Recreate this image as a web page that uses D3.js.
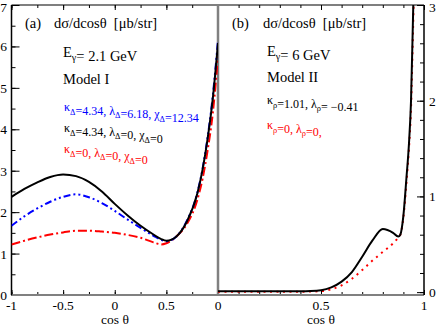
<!DOCTYPE html>
<html>
<head>
<meta charset="utf-8">
<script src="https://cdn.jsdelivr.net/npm/d3@7"></script>
<style>
  body { margin: 0; background: #fff; }
  svg { display: block; }
</style>
</head>
<body>
<svg id="chart" width="436" height="326"></svg>
<script>
// panel (a): E_gamma = 2.1 GeV, Model I
const cos_a = [-1, -0.875, -0.75, -0.625, -0.5, -0.375, -0.25, -0.125, 0, 0.125, 0.25, 0.375, 0.45, 0.5, 0.6, 0.7, 0.8, 0.85, 0.9, 0.95, 1];
const black_a = [2.37, 2.56, 2.72, 2.85, 2.91, 2.87, 2.73, 2.5, 2.2, 1.92, 1.67, 1.46, 1.35, 1.31, 1.42, 1.78, 2.45, 3.02, 3.78, 4.75, 6.08];
const blue_a = [1.67, 1.9, 2.09, 2.25, 2.37, 2.43, 2.36, 2.22, 2.03, 1.82, 1.62, 1.43, 1.33, 1.3, 1.42, 1.8, 2.47, 3.04, 3.82, 4.82, 6.15];
const red_a = [1.22, 1.31, 1.39, 1.46, 1.51, 1.55, 1.55, 1.53, 1.5, 1.45, 1.38, 1.27, 1.22, 1.25, 1.42, 1.72, 2.3, 2.8, 3.5, 4.4, 5.75];

// panel (b): E_gamma = 6 GeV, Model II
const cos_b = [0, 0.1, 0.2, 0.3, 0.4, 0.45, 0.5, 0.55, 0.6, 0.65, 0.7, 0.75, 0.8, 0.85, 0.875, 0.885, 0.9, 0.915, 0.927, 0.937, 0.948, 0.96];
const black_b = [0.01, 0.01, 0.01, 0.01, 0.01, 0.012, 0.02, 0.05, 0.11, 0.21, 0.37, 0.54, 0.66, 0.62, 0.58, 0.6, 0.8, 1.2, 1.55, 2.0, 3.0, 4.0];
const red_b = [0.005, 0.005, 0.005, 0.005, 0.005, 0.006, 0.01, 0.03, 0.07, 0.14, 0.23, 0.33, 0.42, 0.51, 0.57, 0.6, 0.78, 1.15, 1.5, 1.92, 2.85, 3.9];

const y_top = 5, y_bottom = 295;
const serif = '"Liberation Serif", "Times New Roman", Times, "DejaVu Serif", serif';
const svg = d3.select('#chart').attr('font-family', serif);

const xa = d3.scaleLinear().domain([-1, 1]).range([11.5, 218]);
const ya = d3.scaleLinear().domain([0, 7]).range([y_bottom, y_top]);
const xb = d3.scaleLinear().domain([0, 1]).range([218, 424]);
const yb = d3.scaleLinear().domain([-0.03, 3]).range([y_bottom, y_top]);

const defs = svg.append('defs');
defs.append('clipPath').attr('id', 'clip-a').append('rect')
  .attr('x', 11.5).attr('y', y_top).attr('width', 218 - 11.5).attr('height', y_bottom - y_top);
defs.append('clipPath').attr('id', 'clip-b').append('rect')
  .attr('x', 218).attr('y', y_top).attr('width', 424 - 218).attr('height', y_bottom - y_top);

const tick_vals = function (lo, hi, step) {
  return d3.range(Math.round((hi - lo) / step) + 1).map(i => +(lo + i * step).toFixed(4));
};

const add_ticks = function (g, axis, vals, len) {
  g.append('g').call(axis.tickValues(vals).tickSize(len).tickFormat(''))
    .call(s => s.select('.domain').remove())
    .call(s => s.selectAll('line').attr('stroke', '#000'));
};

// panel (a) axes
const ga = svg.append('g');
add_ticks(ga.append('g').attr('transform', `translate(0,${y_bottom})`), d3.axisTop(xa), tick_vals(-1, 1, 0.25), 3);
add_ticks(ga.append('g').attr('transform', `translate(0,${y_bottom})`), d3.axisTop(xa), tick_vals(-1, 1, 0.5), 5);
add_ticks(ga.append('g').attr('transform', `translate(0,${y_top})`), d3.axisBottom(xa), tick_vals(-1, 1, 0.25), 3);
add_ticks(ga.append('g').attr('transform', `translate(0,${y_top})`), d3.axisBottom(xa), tick_vals(-1, 1, 0.5), 5);
add_ticks(ga.append('g').attr('transform', 'translate(11.5,0)'), d3.axisRight(ya), tick_vals(0, 7, 0.5), 4);
add_ticks(ga.append('g').attr('transform', 'translate(11.5,0)'), d3.axisRight(ya), tick_vals(0, 7, 1), 8);

// panel (b) axes
const gb = svg.append('g');
add_ticks(gb.append('g').attr('transform', `translate(0,${y_bottom})`), d3.axisTop(xb), tick_vals(0, 1, 0.1), 3);
add_ticks(gb.append('g').attr('transform', `translate(0,${y_bottom})`), d3.axisTop(xb), tick_vals(0, 1, 0.5), 5);
add_ticks(gb.append('g').attr('transform', `translate(0,${y_top})`), d3.axisBottom(xb), tick_vals(0, 1, 0.1), 3);
add_ticks(gb.append('g').attr('transform', `translate(0,${y_top})`), d3.axisBottom(xb), tick_vals(0, 1, 0.5), 5);
add_ticks(gb.append('g').attr('transform', 'translate(424,0)'), d3.axisLeft(yb), tick_vals(0, 3, 0.2), 4);
add_ticks(gb.append('g').attr('transform', 'translate(424,0)'), d3.axisLeft(yb), tick_vals(0, 3, 1), 7);

// frame
svg.append('line').attr('x1', 11.5).attr('x2', 424).attr('y1', y_top).attr('y2', y_top).attr('stroke', '#000').attr('stroke-width', 1.2);
svg.append('line').attr('x1', 11.5).attr('x2', 424).attr('y1', y_bottom).attr('y2', y_bottom).attr('stroke', '#808080').attr('stroke-width', 2);
svg.append('line').attr('x1', 11.5).attr('x2', 11.5).attr('y1', y_top).attr('y2', y_bottom).attr('stroke', '#000').attr('stroke-width', 1.5);
svg.append('line').attr('x1', 424).attr('x2', 424).attr('y1', y_top).attr('y2', y_bottom).attr('stroke', '#000').attr('stroke-width', 1.5);
svg.append('line').attr('x1', 218).attr('x2', 218).attr('y1', y_top).attr('y2', y_bottom).attr('stroke', '#808080').attr('stroke-width', 2.5);

// tick labels
const lab = svg.append('g').attr('font-size', 13.5).attr('fill', '#000');
[-1, -0.5, 0, 0.5].forEach(v => {
  lab.append('text').attr('x', xa(v)).attr('y', 310).attr('text-anchor', 'middle').text(v);
});
[0, 0.5, 1].forEach(v => {
  lab.append('text').attr('x', xb(v)).attr('y', 310).attr('text-anchor', 'middle').text(v);
});
d3.range(0, 8).forEach(v => {
  lab.append('text').attr('x', 7).attr('y', Math.max(ya(v) + 5, 12)).attr('text-anchor', 'end').text(v);
});
[0, 1, 2, 3].forEach(v => {
  lab.append('text').attr('x', 429).attr('y', Math.max(yb(v) + 5, 12)).attr('text-anchor', 'start').text(v);
});
lab.append('text').attr('x', 115).attr('y', 324).attr('text-anchor', 'middle').text('cos θ');
lab.append('text').attr('x', 321).attr('y', 324).attr('text-anchor', 'middle').text('cos θ');

// curves
const draw = function (clip, xs, ys, x, y, color, dash, width) {
  const pts = xs.map((c, i) => [c, ys[i]]);
  svg.append('path')
    .attr('clip-path', `url(#${clip})`)
    .attr('d', d3.line().x(d => x(d[0])).y(d => y(d[1])).curve(d3.curveMonotoneX)(pts))
    .attr('fill', 'none')
    .attr('stroke', color)
    .attr('stroke-width', width)
    .attr('stroke-dasharray', dash);
};

draw('clip-a', cos_a, red_a, xa, ya, '#ff0000', '9,3,2,3', 2);
draw('clip-a', cos_a, blue_a, xa, ya, '#0000ff', '7,3,2,3,2,3', 2);
draw('clip-a', cos_a, black_a, xa, ya, '#000', null, 2);
draw('clip-b', cos_b, red_b, xb, yb, '#ff0000', '2,4.5', 2);
draw('clip-b', cos_b, black_b, xb, yb, '#000', null, 2);

// annotations
const sub_text = function (x, y, size, color, parts) {
  const t = svg.append('text').attr('x', x).attr('y', y).attr('font-size', size).attr('fill', color);
  parts.forEach(p => {
    if (typeof p === 'string') {
      t.append('tspan').text(p);
    } else {
      t.append('tspan').attr('dy', size * 0.3).attr('font-size', size * 0.7).text(p.sub);
      t.append('tspan').attr('dy', -size * 0.3).text('');
    }
  });
  return t;
};

svg.append('text').attr('x', 25).attr('y', 28).attr('font-size', 14.5).text('(a)');
svg.append('text').attr('x', 54).attr('y', 28).attr('font-size', 14.5).attr('xml:space', 'preserve').text('dσ/dcosθ  [μb/str]');
sub_text(63, 57, 14.5, '#000', ['E', { sub: 'γ' }, '= 2.1 GeV']);
svg.append('text').attr('x', 63).attr('y', 84).attr('font-size', 14.5).text('Model I');
sub_text(64, 111, 12, '#0000ff', ['κ', { sub: 'Δ' }, '=4.34, λ', { sub: 'Δ' }, '=6.18, χ', { sub: 'Δ' }, '=12.34']);
sub_text(64, 132, 12, '#000', ['κ', { sub: 'Δ' }, '=4.34, λ', { sub: 'Δ' }, '=0, χ', { sub: 'Δ' }, '=0']);
sub_text(64, 153, 12, '#ff0000', ['κ', { sub: 'Δ' }, '=0, λ', { sub: 'Δ' }, '=0, χ', { sub: 'Δ' }, '=0']);

svg.append('text').attr('x', 232).attr('y', 28).attr('font-size', 14.5).text('(b)');
svg.append('text').attr('x', 263).attr('y', 28).attr('font-size', 14.5).attr('xml:space', 'preserve').text('dσ/dcosθ  [μb/str]');
sub_text(267, 56, 14.5, '#000', ['E', { sub: 'γ' }, '= 6 GeV']);
svg.append('text').attr('x', 267).attr('y', 82).attr('font-size', 14.5).text('Model II');
sub_text(267, 104, 12, '#000', ['κ', { sub: 'ρ' }, '=1.01, λ', { sub: 'ρ' }, '= −0.41']);
sub_text(267, 129, 12, '#ff0000', ['κ', { sub: 'ρ' }, '=0, λ', { sub: 'ρ' }, '=0,']);
</script>
</body>
</html>
